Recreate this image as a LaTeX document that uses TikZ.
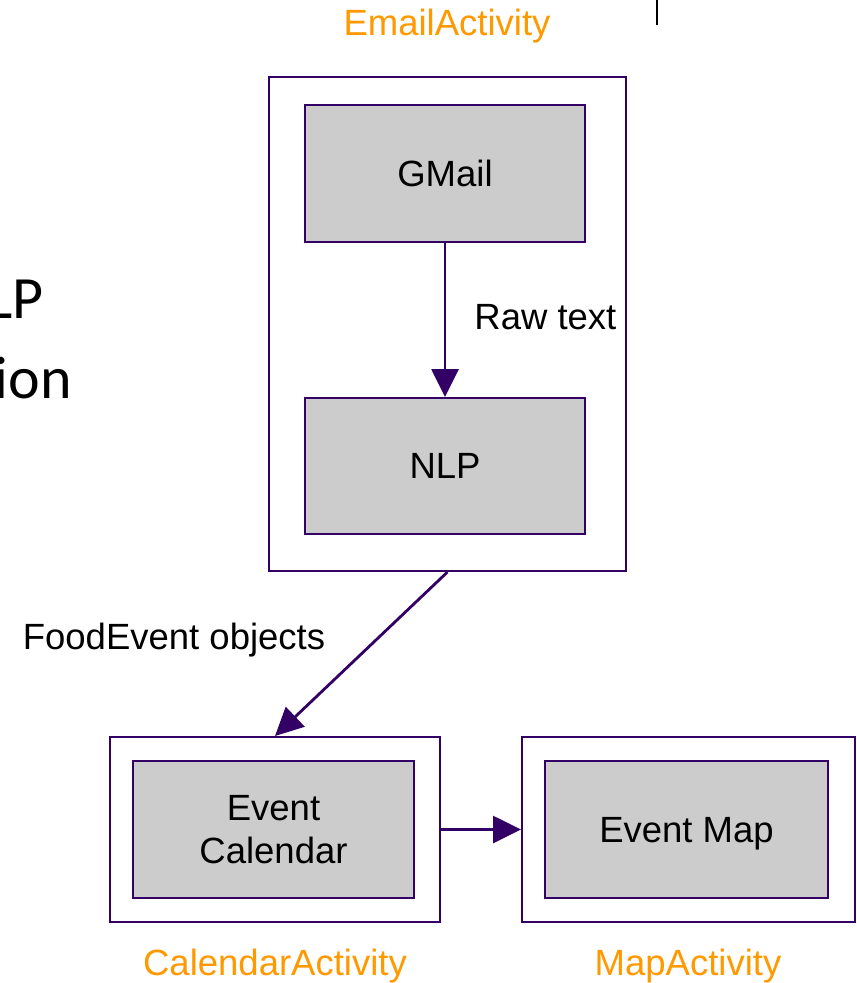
\documentclass[tikz,border=0pt]{standalone}
\usepackage{fontspec}
\setmainfont{Liberation Sans}
\newfontfamily\slidefont{Carlito}
\usetikzlibrary{arrows.meta,positioning}
\definecolor{outline}{RGB}{51,0,102}
\definecolor{boxgray}{RGB}{204,204,204}
\definecolor{activity}{RGB}{255,153,0}

\begin{document}
\begin{tikzpicture}[x=1pt, y=-1pt,
    every node/.style={font=\fontsize{36.5}{43}\selectfont, inner sep=0pt, text depth=0pt},
    frame/.style={draw=outline, line width=2pt, fill=white},
    comp/.style={draw=outline, line width=2pt, fill=boxgray, align=center},
    flow/.style={draw=outline, line width=2.8pt, -{Triangle[length=28pt,width=27pt]}}]
    \useasboundingbox (0,0) rectangle (857,983);

    % slide text cut off at the left edge
    \node[anchor=base east, font=\slidefont\fontsize{60}{72}\selectfont] (slideA) at (44,318) {LP};
    \node[anchor=base east, font=\slidefont\fontsize{60}{72}\selectfont] (slideB) at (72,398) {ion};
    \draw[line width=1.5pt] (657,0) -- (657,25);

    % activities
    \node[frame, minimum width=357pt, minimum height=494pt] (email) at (447.5,324) {};
    \node[frame, minimum width=330pt, minimum height=185pt] (calendar) at (275,829.5) {};
    \node[frame, minimum width=333pt, minimum height=185pt] (map) at (688.5,829.5) {};

    \node[text=activity] (emailname) at (447,22) {EmailActivity};
    \node[text=activity] (calendarname) at (275,962) {CalendarActivity};
    \node[text=activity] (mapname) at (688,962) {MapActivity};

    % components
    \node[comp, minimum width=280pt, minimum height=137pt] (gmail) at (445,173.5) {GMail};
    \node[comp, minimum width=280pt, minimum height=136pt] (nlp) at (445,466) {NLP};
    \node[comp, minimum width=281pt, minimum height=137pt] (eventcal) at (273.5,829.5) {Event\\Calendar};
    \node[comp, minimum width=283pt, minimum height=137pt] (eventmap) at (686.5,829.5) {Event Map};

    \draw[flow] (gmail) -- node[right=28pt, yshift=3pt] (rawtext) {Raw text} (nlp);
    \draw[flow] (email.south) -- (calendar.north);
    \node (foodevents) at (174,636) {FoodEvent objects};
    \draw[flow] (calendar) -- (map);
\end{tikzpicture}
\end{document}
